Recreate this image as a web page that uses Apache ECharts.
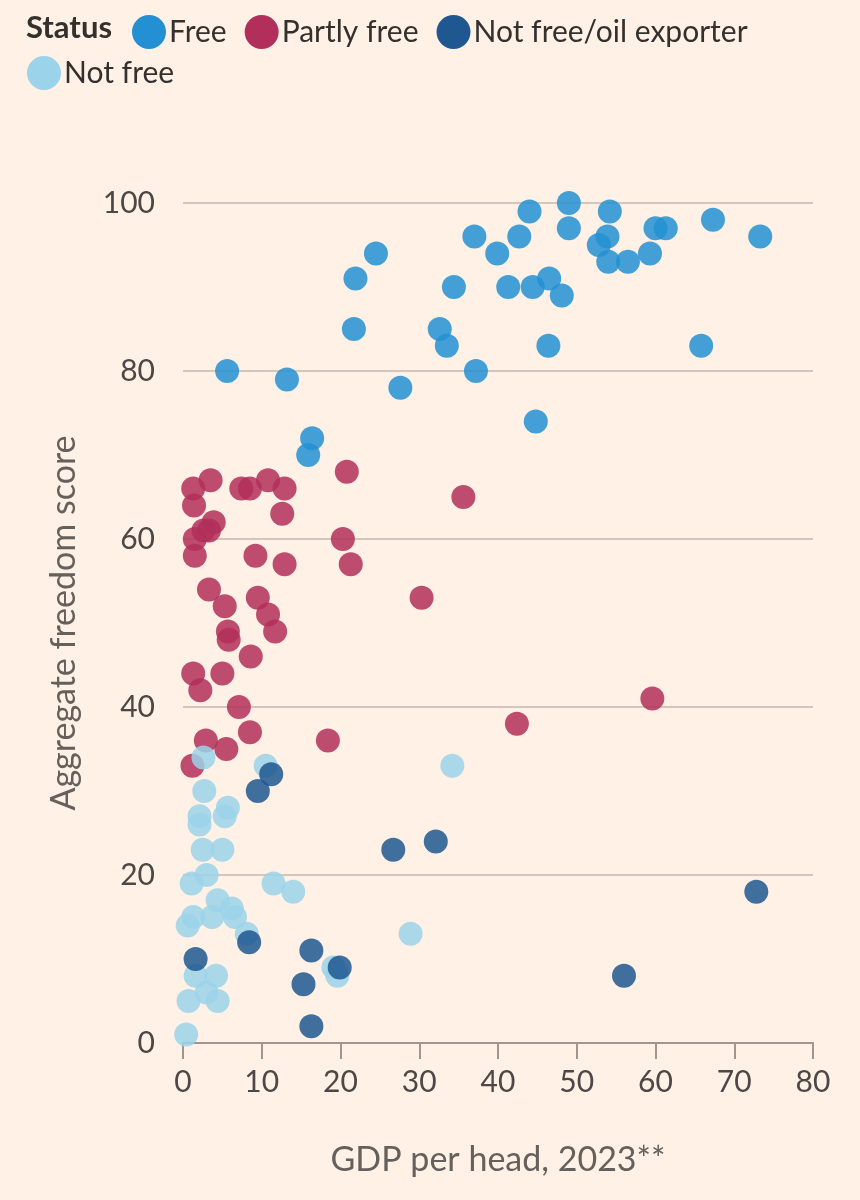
<!DOCTYPE html>
<html><head><meta charset="utf-8">
<script src="https://cdn.jsdelivr.net/npm/echarts@6/dist/echarts.min.js"></script>
<style>html,body{margin:0;padding:0;background:#FFF1E5}#c{width:860px;height:1200px}</style>
</head><body><div id="c"></div>
<script>
// GDP per head ($'000, 2023) vs aggregate freedom score
const freeData = [[5.6,80],[13.2,79],[24.5,94],[21.9,91],[21.7,85],[37,96],[39.9,94],[34.4,90],[32.6,85],[33.5,83],[37.2,80],[27.6,78],[16.4,72],[15.9,70],[44,99],[49,100],[54.2,99],[42.7,96],[49,97],[53.9,96],[52.8,95],[54,93],[56.5,93],[60,97],[61.3,97],[59.3,94],[67.3,98],[73.3,96],[41.3,90],[44.4,90],[46.5,91],[48.1,89],[46.4,83],[65.8,83],[44.8,74]];
const partlyFreeData = [[20.8,68],[35.6,65],[1.3,66],[3.5,67],[1.4,64],[7.4,66],[8.5,66],[10.8,67],[12.9,66],[12.6,63],[3.9,62],[3.3,61],[2.6,61],[1.5,60],[1.5,58],[20.3,60],[21.3,57],[9.2,58],[12.9,57],[3.3,54],[5.3,52],[9.5,53],[10.8,51],[11.7,49],[5.7,49],[5.8,48],[8.6,46],[1.3,44],[5.0,44],[2.2,42],[7.1,40],[8.5,37],[18.4,36],[2.9,36],[5.5,35],[1.2,33],[30.3,53],[59.6,41],[42.4,38]];
const notFreeData = [[2.6,34],[10.5,33],[34.2,33],[2.7,30],[5.7,28],[5.3,27],[2.1,27],[2.1,26],[2.5,23],[5.0,23],[3.0,20],[1.1,19],[11.5,19],[14.0,18],[4.4,17],[6.2,16],[6.6,15],[3.7,15],[1.3,15],[0.6,14],[8.1,13],[28.9,13],[1.6,8],[4.2,8],[3.0,6],[0.7,5],[4.4,5],[0.4,1],[19.1,9],[19.6,8]];
const oilExporterData = [[11.2,32],[9.5,30],[8.4,12],[1.6,10],[16.3,11],[19.9,9],[15.3,7],[16.3,2],[26.7,23],[32.1,24],[72.8,18],[56.0,8]];

const seriesNames = ['Free','Partly free','Not free/oil exporter','Not free'];
const xTicks = {min:0, max:80, interval:10};
const yTicks = {min:0, max:100, interval:20};
const xTitle = 'GDP per head, 2023**';
const yTitle = 'Aggregate freedom score';

const colors = {
  'Free':'#2290D2',
  'Partly free':'#B22F5B',
  'Not free/oil exporter':'#1F5791',
  'Not free':'#9BD4EA'
};
const FONT = 'Lato';
const chart = echarts.init(document.getElementById('c'), null, {renderer:'canvas'});

function mk(name, data){
  return {
    name, type:'scatter', data, symbol:'circle', symbolSize:24,
    itemStyle:{color:colors[name], opacity:0.85},
    emphasis:{disabled:true}
  };
}
const legendCommon = {
  icon:'circle', itemWidth:34, itemHeight:34, itemGap:18,
  textStyle:{fontFamily:FONT, fontSize:30, color:'#33302E', padding:[0,0,0,-2]},
  itemStyle:{opacity:1}, selectedMode:false
};
chart.setOption({
  backgroundColor:'#FFF1E5',
  animation:false,
  textStyle:{fontFamily:FONT},
  title:{text:'Status', left:21, top:7, textStyle:{fontFamily:FONT, fontSize:31, fontWeight:'bold', color:'#33302E'}},
  legend:[
    Object.assign({left:127, top:10, data:seriesNames.slice(0,3)}, legendCommon),
    Object.assign({left:22, top:51, data:[seriesNames[3]]}, legendCommon)
  ],
  grid:{left:183, right:47, top:203, bottom:157, containLabel:false},
  xAxis:{
    type:'value', min:xTicks.min, max:xTicks.max, interval:xTicks.interval,
    name:xTitle, nameLocation:'middle', nameGap:100,
    nameTextStyle:{fontFamily:FONT, fontSize:34, color:'#66605C'},
    axisLine:{show:true, onZero:false, lineStyle:{color:'#A1968E', width:2}},
    axisTick:{show:true, length:16, lineStyle:{color:'#A1968E', width:2}},
    axisLabel:{fontFamily:FONT, fontSize:30, color:'#4D4845', margin:24},
    splitLine:{show:false}
  },
  yAxis:{
    type:'value', min:yTicks.min, max:yTicks.max, interval:yTicks.interval,
    name:yTitle, nameLocation:'middle', nameGap:102, nameRotate:90,
    nameTextStyle:{fontFamily:FONT, fontSize:34, color:'#66605C'},
    axisLine:{show:false}, axisTick:{show:false},
    axisLabel:{fontFamily:FONT, fontSize:30, color:'#4D4845', margin:28},
    splitLine:{show:true, lineStyle:{color:'#D3C7BD', width:2}}
  },
  series:[
    mk('Free', freeData),
    mk('Partly free', partlyFreeData),
    mk('Not free', notFreeData),
    mk('Not free/oil exporter', oilExporterData)
  ]
});
</script></body></html>
